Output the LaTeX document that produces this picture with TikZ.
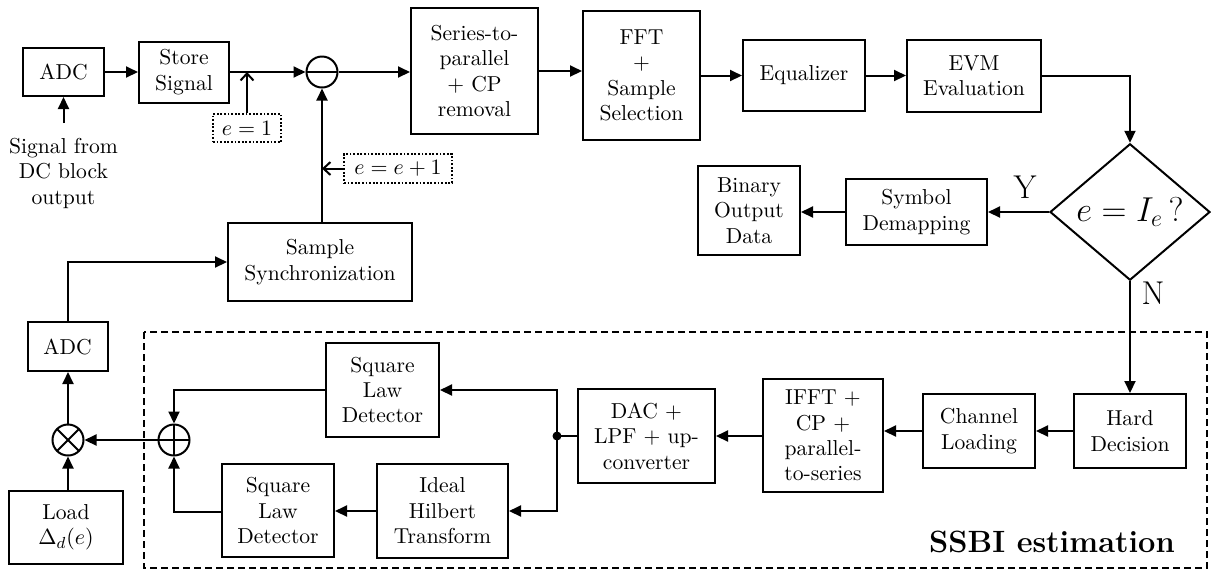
\documentclass[tikz,border=0pt]{standalone}
\usetikzlibrary{arrows.meta,shapes.geometric,calc}
\begin{document}
\begin{tikzpicture}[x=0.5pt,y=-0.5pt,line width=1pt,
  every node/.style={font=\fontsize{10.8}{12.7}\selectfont},
  blk/.style={draw,line width=1pt,align=center,inner sep=1pt},
  tag/.style={draw,line width=0.9pt,dash pattern=on 0.9pt off 0.9pt,inner sep=1pt},
  op/.style={draw,circle,line width=1pt,minimum size=15.5pt,inner sep=0pt},
  arr/.style={-{Triangle[length=6pt,width=5.5pt]}},
  oarr/.style={-{Straight Barb[length=3.5pt,width=6.5pt]}},
  big/.style={font=\fontsize{16.5}{20}\selectfont}]
\useasboundingbox (0,0) rectangle (1211,570);

% estimation region
\draw[line width=0.9pt,dash pattern=on 3.5pt off 2pt] (144,332) rectangle (1207,568);
\node[font=\fontsize{15.4}{18}\selectfont\bfseries] (ssbi) at (1052,542) {SSBI estimation};

% receiver chain
\node[blk,minimum width=40.5pt,minimum height=24pt] (adcA) at (63.5,72) {ADC};
\node[blk,minimum width=45pt,minimum height=30.5pt] (store) at (184,72) {Store\\Signal};
\node[op,path picture={\draw[line width=1pt] (path picture bounding box.west) -- (path picture bounding box.east);}] (sub) at (322,72) {};
\node[blk,minimum width=63.5pt,minimum height=63pt] (sp) at (474.5,71) {Series-to-\\parallel\\+ CP\\removal};
\node[blk,minimum width=58.5pt,minimum height=64.5pt] (fft) at (641.5,75.5) {FFT\\+\\Sample\\Selection};
\node[blk,minimum width=61pt,minimum height=35.5pt] (eq) at (804,75.5) {Equalizer};
\node[blk,minimum width=67pt,minimum height=36pt] (evm) at (974,75.5) {EVM\\Evaluation};
\node[draw,diamond,line width=1pt,inner sep=0pt,minimum width=80pt,minimum height=55pt,big] (dec) at (1130,212) {$e = I_e\,?$};
\node[blk,minimum width=70.5pt,minimum height=33pt] (sym) at (916.5,212) {Symbol\\Demapping};
\node[blk,minimum width=51pt,minimum height=44.5pt] (bin) at (749,210.5) {Binary\\Output\\Data};
\node[big] (yes) at (1025,187) {Y};
\node[big] (no) at (1153,293) {N};

\node[tag,minimum width=34pt,minimum height=14pt] (e1) at (247,128) {$e=1$};
\node[tag,minimum width=54pt,minimum height=14.5pt] (ee1) at (398,168.5) {$e=e+1$};
\node[align=center,anchor=north,inner ysep=7pt] (sig) at (63.5,123) {Signal from\\DC block\\output};

\node[blk,minimum width=92pt,minimum height=39pt] (sync) at (320,262) {Sample\\Synchronization};

% estimation blocks
\node[blk,minimum width=56pt,minimum height=37pt] (hard) at (1130,431) {Hard\\Decision};
\node[blk,minimum width=56pt,minimum height=37pt] (chan) at (979,431) {Channel\\Loading};
\node[blk,minimum width=60pt,minimum height=56.5pt] (ifft) at (823,435.5) {IFFT +\\CP +\\parallel-\\to-series};
\node[blk,minimum width=68.5pt,minimum height=47pt] (dac) at (646.5,436) {DAC +\\LPF + up-\\converter};
\node[circle,fill,inner sep=0pt,minimum size=4.5pt] (j) at (557,436) {};
\node[blk,minimum width=56.5pt,minimum height=47pt] (sld1) at (382.5,390) {Square\\Law\\Detector};
\node[blk,minimum width=65.5pt,minimum height=47pt] (hil) at (442.5,511) {Ideal\\Hilbert\\Transform};
\node[blk,minimum width=56pt,minimum height=46.5pt] (sld2) at (278,510.5) {Square\\Law\\Detector};
\node[op,path picture={\draw[line width=1pt] (path picture bounding box.west) -- (path picture bounding box.east)
  (path picture bounding box.north) -- (path picture bounding box.south);}] (add) at (174,440) {};
\node[op,path picture={\draw[line width=1pt] (path picture bounding box.north west) -- (path picture bounding box.south east)
  (path picture bounding box.north east) -- (path picture bounding box.south west);}] (mul) at (68,440) {};
\node[blk,minimum width=40pt,minimum height=24.5pt] (adcB) at (67.5,346.5) {ADC};
\node[blk,minimum width=57pt,minimum height=36.5pt] (load) at (66,527.5) {Load\\$\Delta_d(e)$};

% connectors
\coordinate (t1) at (247,72);
\coordinate (t2) at (322,168.5);
\coordinate (c1) at (1130,75.5);
\draw[arr] (sig.north) -- (adcA.south);
\draw[arr] (adcA.east) -- (store.west |- adcA.east);
\draw[arr] (store.east) -- (sub.west);
\draw[oarr] (e1.north) -- (t1);
\draw[arr] (sub.east) -- (sp.west |- sub.east);
\draw[arr] (sp.east) -- (fft.west |- sp.east);
\draw[arr] (fft.east |- eq.west) -- (eq.west);
\draw[arr] (eq.east) -- (evm.west);
\draw[arr] (evm.east) -- (c1) -- (dec.north);
\draw[arr] (dec.west) -- (sym.east);
\draw[arr] (sym.west) -- (bin.east |- sym.west);
\draw[arr] (dec.south) -- (hard.north);
\draw[arr] (hard) -- (chan);
\draw[arr] (chan.west) -- (ifft.east |- chan.west);
\draw[arr] (ifft.west |- dac.east) -- (dac.east);
\draw (dac.west) -- (j.center);
\draw[arr] (j.center) |- (sld1.east);
\draw[arr] (j.center) |- (hil.east);
\draw[arr] (hil.west) -- (sld2.east |- hil.west);
\draw[arr] (sld1.west) -| (add.north);
\draw[arr] (sld2.west |- 0,512) -| (add.south);
\draw[arr] (add) -- (mul);
\draw[arr] (load.north -| mul.south) -- (mul.south);
\draw[arr] (mul.north) -- (adcB.south -| mul.north);
\draw[arr] (adcB.north -| mul.north) |- (sync.west);
\draw[arr] (sync.north -| sub.south) -- (sub.south);
\draw[oarr] (ee1.west) -- (t2);
\end{tikzpicture}
\end{document}
